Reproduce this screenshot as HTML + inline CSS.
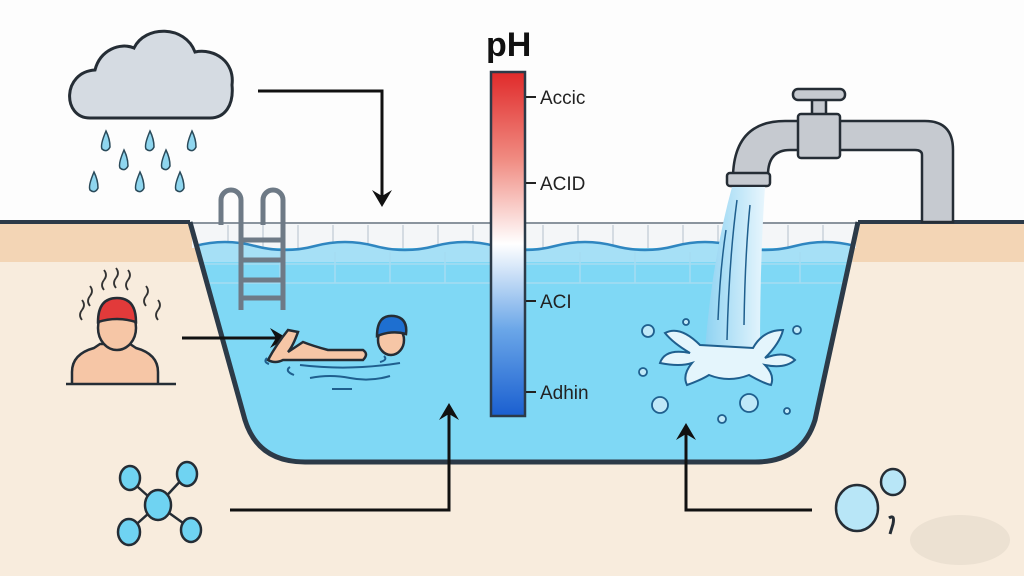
<!DOCTYPE html>
<html><head><meta charset="utf-8"><style>html,body{margin:0;padding:0;background:#fff}svg{display:block}text{font-family:"Liberation Sans",sans-serif}</style></head><body>
<svg width="1024" height="576" viewBox="0 0 1024 576" xmlns="http://www.w3.org/2000/svg">
<defs>
<linearGradient id="ph" x1="0" y1="0" x2="0" y2="1">
<stop offset="0" stop-color="#e02a2a"/><stop offset="0.25" stop-color="#f08a80"/><stop offset="0.5" stop-color="#ffffff"/><stop offset="0.75" stop-color="#6aa6e8"/><stop offset="1" stop-color="#1a5fd0"/></linearGradient>
<linearGradient id="wf" x1="0" y1="0" x2="1" y2="0"><stop offset="0" stop-color="#8fd3f2"/><stop offset="1" stop-color="#e8f6fd"/></linearGradient>
</defs>
<rect width="1024" height="576" fill="#fdfdfd"/>
<!-- ground -->
<rect x="0" y="222" width="1024" height="354" fill="#f8ecdd"/>
<rect x="0" y="224" width="1024" height="38" fill="#f3d5b5"/>
<!-- pool -->
<path d="M190,222 L245,420 Q258,462 305,462 L755,462 Q802,462 815,420 L858,222 Z" fill="#7fd8f5"/>
<rect x="192" y="222" width="664" height="26" fill="#f4f6f8"/>
<g stroke="#c9d2da" stroke-width="1.5">
<line x1="228" y1="225" x2="228" y2="248"/><line x1="263" y1="225" x2="263" y2="248"/><line x1="298" y1="225" x2="298" y2="248"/><line x1="333" y1="225" x2="333" y2="248"/><line x1="368" y1="225" x2="368" y2="248"/><line x1="403" y1="225" x2="403" y2="248"/><line x1="438" y1="225" x2="438" y2="248"/><line x1="473" y1="225" x2="473" y2="248"/><line x1="543" y1="225" x2="543" y2="248"/><line x1="578" y1="225" x2="578" y2="248"/><line x1="613" y1="225" x2="613" y2="248"/><line x1="648" y1="225" x2="648" y2="248"/><line x1="683" y1="225" x2="683" y2="248"/><line x1="718" y1="225" x2="718" y2="248"/><line x1="753" y1="225" x2="753" y2="248"/><line x1="788" y1="225" x2="788" y2="248"/><line x1="823" y1="225" x2="823" y2="248"/>
</g>
<path d="M195,246 Q225,238 255,246 T315,246 T375,246 T435,246 T495,246 T555,246 T615,246 T675,246 T735,246 T795,246 T855,246 L852,262 L199,262 Z" fill="#a6e0f6"/>
<path d="M195,246 Q225,238 255,246 T315,246 T375,246 T435,246 T495,246 T555,246 T615,246 T675,246 T735,246 T795,246 T855,246" fill="none" stroke="#2f86c0" stroke-width="2.5"/>
<g stroke="#a5dcf2" stroke-width="1.5">
<line x1="200" y1="264" x2="848" y2="264"/><line x1="205" y1="283" x2="845" y2="283"/>
<line x1="280" y1="252" x2="280" y2="283"/><line x1="335" y1="252" x2="335" y2="283"/><line x1="390" y1="252" x2="390" y2="283"/><line x1="445" y1="252" x2="445" y2="283"/><line x1="580" y1="252" x2="580" y2="283"/><line x1="635" y1="252" x2="635" y2="283"/><line x1="690" y1="252" x2="690" y2="283"/><line x1="800" y1="252" x2="800" y2="283"/>
</g>
<line x1="0" y1="222" x2="190" y2="222" stroke="#2c3a48" stroke-width="4"/>
<line x1="858" y1="222" x2="1024" y2="222" stroke="#2c3a48" stroke-width="4"/>
<line x1="190" y1="223" x2="858" y2="223" stroke="#8a949e" stroke-width="2"/>
<path d="M190,222 L245,420 Q258,462 305,462 L755,462 Q802,462 815,420 L858,222" fill="none" stroke="#2c3a48" stroke-width="5"/>
<!-- ladder -->
<g fill="none" stroke="#6e7a86" stroke-width="5">
<path d="M221,225 V200 a10,10 0 0 1 20,0 V310"/><path d="M263,225 V200 a10,10 0 0 1 20,0 V310"/>
<path d="M241,240 H283 M241,260 H283 M241,280 H283 M241,298 H283"/>
</g>
<!-- pH bar -->
<rect x="491" y="72" width="34" height="344" fill="url(#ph)" stroke="#2c3a48" stroke-width="2.5"/>
<text x="486" y="56" font-size="34" font-weight="bold" fill="#111">pH</text>
<g stroke="#222" stroke-width="2"><line x1="526" y1="97" x2="536" y2="97"/><line x1="526" y1="183" x2="536" y2="183"/><line x1="526" y1="301" x2="536" y2="301"/><line x1="526" y1="392" x2="536" y2="392"/></g>
<g font-size="19" fill="#222"><text x="540" y="104">Accic</text><text x="540" y="190">ACID</text><text x="540" y="308">ACI</text><text x="540" y="399">Adhin</text></g>
<!-- cloud -->
<path d="M90,118 C62,118 62,72 95,70 C100,50 120,42 134,48 C145,25 185,25 195,52 C215,48 235,62 232,85 C234,105 225,118 210,118 Z" fill="#d5dbe2" stroke="#252d35" stroke-width="3"/>
<g fill="#8fd6ef" stroke="#2a4a5a" stroke-width="1.5">
<path d="M106,131 q-6,14 -4,18 q5,4 8,-2 q0,-8 -4,-16z"/><path d="M150,131 q-6,14 -4,18 q5,4 8,-2 q0,-8 -4,-16z"/><path d="M192,131 q-6,14 -4,18 q5,4 8,-2 q0,-8 -4,-16z"/>
<path d="M124,150 q-6,14 -4,18 q5,4 8,-2 q0,-8 -4,-16z"/><path d="M166,150 q-6,14 -4,18 q5,4 8,-2 q0,-8 -4,-16z"/>
<path d="M94,172 q-6,14 -4,18 q5,4 8,-2 q0,-8 -4,-16z"/><path d="M140,172 q-6,14 -4,18 q5,4 8,-2 q0,-8 -4,-16z"/><path d="M180,172 q-6,14 -4,18 q5,4 8,-2 q0,-8 -4,-16z"/>
</g>
<!-- arrows -->
<g fill="none" stroke="#111" stroke-width="3">
<path d="M258,91 H382 V200"/><path d="M182,338 H280"/><path d="M230,510 H449 V410"/><path d="M812,510 H686 V430"/>
</g>
<g fill="#111"><path d="M372,190 L382,207 L392,190 L382,196Z"/><path d="M270,328 L287,338 L270,348 L276,338Z"/><path d="M439,420 L449,403 L459,420 L449,414Z"/><path d="M676,440 L686,423 L696,440 L686,434Z"/></g>
<!-- person -->
<g stroke="#252d35" stroke-width="2.5">
<path d="M72,383 V372 q0,-18 22,-24 l6,-4 h30 l6,4 q22,6 22,24 V383" fill="#f6c6a6"/>
<line x1="66" y1="384" x2="176" y2="384"/>
<ellipse cx="117" cy="328" rx="19" ry="22" fill="#f6c6a6"/>
<path d="M98,322 q0,-24 19,-24 q19,0 19,24 q-19,-6 -38,0z" fill="#e23a3a"/>
</g>
<g fill="none" stroke="#333" stroke-width="1.8">
<path d="M104,290 q-4,-5 0,-10 q4,-5 0,-10"/><path d="M116,288 q-4,-5 0,-10 q4,-5 0,-10"/><path d="M128,290 q-4,-5 0,-10 q4,-5 0,-10"/><path d="M90,306 q-4,-5 0,-10 q4,-5 0,-10"/><path d="M146,306 q-4,-5 0,-10 q4,-5 0,-10"/><path d="M82,320 q-4,-5 0,-10 q4,-5 0,-10"/><path d="M158,320 q-4,-5 0,-10 q4,-5 0,-10"/>
</g>
<!-- swimmer -->
<g stroke="#252d35" stroke-width="2.5">
<path d="M268,360 q8,-15 20,-30 l10,2 q-5,14 -10,20 l15,-10 q10,4 25,8 h35 q6,4 0,10 h-80 q-8,4 -15,0z" fill="#f6c6a6"/>
<ellipse cx="391" cy="340" rx="13" ry="15" fill="#f6c6a6"/>
<path d="M377,336 q0,-22 17,-20 q14,2 12,18 q-14,-4 -29,2z" fill="#1e6fd0"/>
</g>
<g fill="none" stroke="#1f5f8e" stroke-width="2">
<path d="M300,365 q50,6 100,-2"/><path d="M267,358 q-4,4 2,6"/><path d="M380,362 q8,-2 4,-6"/><path d="M310,378 q20,-4 40,0 q20,4 40,-2"/><path d="M290,367 q-6,4 4,8"/><path d="M332,389 h20"/>
</g>
<!-- faucet -->
<g stroke="#252d35" stroke-width="2.5" fill="#c6cad0">
<path d="M733,175 Q735,121 785,121 H925 Q953,121 953,150 V222 H922 V155 Q922,150 915,150 H790 Q768,150 768,175 Z"/>
<rect x="812" y="99" width="14" height="16"/><rect x="793" y="89" width="52" height="11" rx="5"/>
<rect x="798" y="114" width="42" height="44" rx="3"/>
<rect x="727" y="173" width="43" height="13" rx="3"/>
</g>
<!-- waterfall -->
<path d="M732,187 L765,187 Q760,260 760,350 L705,350 Q712,260 732,187Z" fill="url(#wf)"/>
<g stroke="#1f5f8e" stroke-width="1.5" fill="none"><path d="M737,200 q-8,60 -10,140"/><path d="M750,205 q-5,50 -6,120"/><path d="M726,230 q-6,40 -8,90"/></g>
<path d="M700,345 q-20,-20 -35,-12 q8,10 25,20 q-25,-5 -30,10 q20,4 32,0 q-10,12 -5,22 q14,-5 22,-10 q20,8 40,0 q14,8 22,10 q4,-10 -6,-20 q20,4 30,-5 q-10,-10 -30,-2 q15,-15 18,-28 q-20,0 -30,18 z" fill="#e4f5fc" stroke="#1f5f8e" stroke-width="2"/>
<g fill="#bfe8f8" stroke="#1f5f8e" stroke-width="1.8">
<circle cx="648" cy="331" r="6"/><circle cx="686" cy="322" r="3"/><circle cx="797" cy="330" r="4"/><circle cx="643" cy="372" r="4"/><circle cx="660" cy="405" r="8"/><circle cx="749" cy="403" r="9"/><circle cx="722" cy="419" r="4"/><circle cx="787" cy="411" r="3"/>
</g>
<!-- molecule -->
<g stroke="#252d35" stroke-width="2.5" fill="#6fd3f2">
<line x1="158" y1="505" x2="130" y2="480"/><line x1="158" y1="505" x2="186" y2="475"/><line x1="158" y1="505" x2="130" y2="530"/><line x1="158" y1="505" x2="190" y2="528"/>
<ellipse cx="130" cy="478" rx="10" ry="12"/><ellipse cx="187" cy="474" rx="10" ry="12"/><ellipse cx="129" cy="532" rx="11" ry="13"/><ellipse cx="191" cy="530" rx="10" ry="12"/><ellipse cx="158" cy="505" rx="13" ry="15"/>
</g>
<!-- bubbles -->
<g stroke="#252d35" stroke-width="2.5" fill="#b8e6f7"><ellipse cx="857" cy="508" rx="21" ry="23"/><ellipse cx="893" cy="482" rx="12" ry="13"/></g>
<path d="M889,518 q6,-4 4,6 l-3,10" fill="none" stroke="#252d35" stroke-width="3"/>
<ellipse cx="960" cy="540" rx="50" ry="25" fill="#e0d6c8" opacity="0.5"/>
</svg>
</body></html>
